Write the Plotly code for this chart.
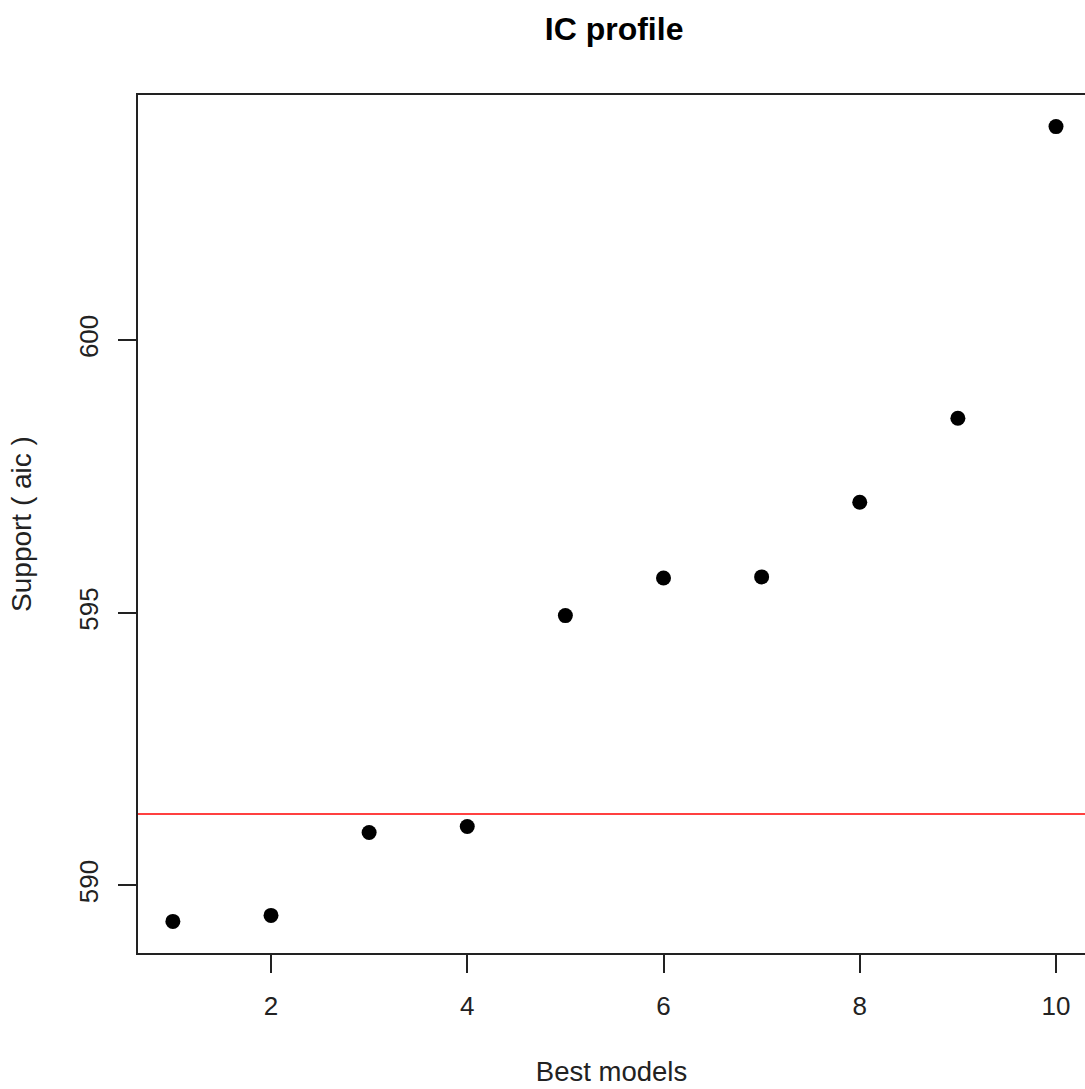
import plotly.graph_objects as go

# Information-criterion profile of the ten best models
models = [1, 2, 3, 4, 5, 6, 7, 8, 9, 10]
aic = [589.34, 589.45, 590.97, 591.08, 594.95, 595.64, 595.66, 597.03, 598.57, 603.92]
threshold = 591.31  # best AIC + 2

x_ticks = [2, 4, 6, 8, 10]
y_ticks = [590, 595, 600]

fig = go.Figure()

fig.add_trace(go.Scatter(
    x=models, y=aic, mode="markers",
    marker=dict(color="black", size=15, line=dict(width=0)),
    showlegend=False, hoverinfo="x+y",
))

fig.add_hline(y=threshold, line=dict(color="#ff0000", width=1.6))

font_family = "Liberation Sans, Arial, sans-serif"
axis_color = "#222222"

fig.update_layout(
    width=1085, height=1089,
    margin=dict(l=138, r=0, t=95, b=136),
    paper_bgcolor="white", plot_bgcolor="white",
    font=dict(family=font_family, size=25, color="#222222"),
    title=dict(text="<b>IC profile</b>", x=0.566, xanchor="center",
               y=0.974, yanchor="middle",
               font=dict(size=32, color="black")),
)

fig.update_xaxes(
    range=[0.6446, 10.2955], tickvals=x_ticks,
    showgrid=False, zeroline=False,
    showline=True, linecolor=axis_color, linewidth=2, mirror=True,
    ticks="outside", ticklen=18, tickwidth=2, tickcolor=axis_color,
    ticklabelstandoff=11, tickfont=dict(size=26),
    title=dict(text="Best models", standoff=42, font=dict(size=27.5)),
)

fig.update_yaxes(
    range=[588.76, 604.50], tickvals=y_ticks, tickangle=-90,
    showgrid=False, zeroline=False,
    showline=True, linecolor=axis_color, linewidth=2,
    ticks="outside", ticklen=18, tickwidth=2, tickcolor=axis_color,
    ticklabelstandoff=10, tickfont=dict(size=26),
    title=dict(text="Support ( aic )", standoff=34, font=dict(size=28)),
)

fig.write_html("out.html")
